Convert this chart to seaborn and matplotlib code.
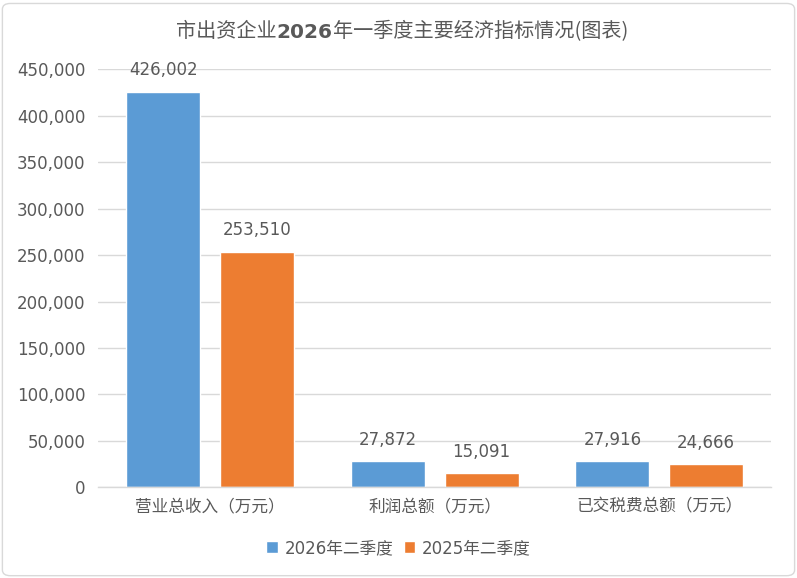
import pandas as pd
import matplotlib.pyplot as plt
import seaborn as sns
from matplotlib.patches import FancyBboxPatch

# === Data ===
categories = ['营业总收入（万元）', '利润总额（万元）', '已交税费总额（万元）']
series_names = ['2026年二季度', '2025年二季度']
values_2026 = [426002, 27872, 27916]
values_2025 = [253510, 15091, 24666]
yticks = [0, 50000, 100000, 150000, 200000, 250000, 300000, 350000, 400000, 450000]

df = pd.DataFrame({
    'cat': categories * 2,
    'series': [series_names[0]] * 3 + [series_names[1]] * 3,
    'value': values_2026 + values_2025,
})

sns.set_style('white')
plt.rcParams['font.family'] = ['DejaVu Sans', 'Noto Sans CJK SC']
cjk = ['Noto Sans CJK SC', 'DejaVu Sans']
txt = '#595959'

fig = plt.figure(figsize=(7.97, 5.78), dpi=100)
ax = fig.add_axes([0.123, 0.157, 0.845, 0.723])

sns.barplot(data=df, x='cat', y='value', hue='series', order=categories,
            hue_order=series_names, palette=['#5B9BD5', '#ED7D31'],
            saturation=1, width=0.834, gap=0.21, ax=ax, legend=True)

for cont in ax.containers:
    ax.bar_label(cont, labels=[f'{v:,.0f}' for v in cont.datavalues],
                 padding=9, fontsize=12, color=txt)

ax.set_ylim(0, 450000)
ax.set_yticks(yticks)
ax.set_yticklabels([f'{v:,}' for v in yticks])
ax.yaxis.grid(True, color='#D9D9D9', linewidth=1)
ax.set_axisbelow(True)
ax.set_xlabel('')
ax.set_ylabel('')
ax.tick_params(axis='both', length=0, labelsize=12, colors=txt)
ax.tick_params(axis='y', pad=9)
ax.tick_params(axis='x', pad=8)
for lab in ax.get_xticklabels():
    lab.set_family(cjk)
    lab.set_fontsize(12)
for s in ['top', 'right', 'left']:
    ax.spines[s].set_visible(False)
ax.spines['bottom'].set_color('#D9D9D9')
ax.spines['bottom'].set_linewidth(1)

handles, labels = ax.get_legend_handles_labels()
ax.get_legend().remove()
leg = fig.legend(handles, labels, loc='center', bbox_to_anchor=(0.5, 0.052),
                 ncol=2, frameon=False, fontsize=12, handlelength=0.7,
                 handleheight=0.7, handletextpad=0.4, columnspacing=0.6)
for t in leg.get_texts():
    t.set_color(txt)

# title in three pieces so that 2026 is bold
t1 = fig.text(0.221, 0.945, '市出资企业', ha='left', va='center',
              fontsize=14.5, color=txt, family=cjk)
t2 = ax.annotate('2026', xy=(1, 0), xycoords=t1, va='bottom', ha='left',
                 fontsize=14.5, color=txt, fontweight='bold', family=['DejaVu Sans'])
t3 = ax.annotate('年一季度主要经济指标情况(图表)', xy=(1, 0), xycoords=t2,
                 va='bottom', ha='left', fontsize=14.5, color=txt, family=cjk)

fig.patches.append(FancyBboxPatch((0.003, 0.004), 0.994, 0.99,
                                  boxstyle='round,pad=0,rounding_size=0.01',
                                  transform=fig.transFigure, fill=False,
                                  edgecolor='#D9D9D9', linewidth=1))

fig.savefig('out.png', dpi=100)
